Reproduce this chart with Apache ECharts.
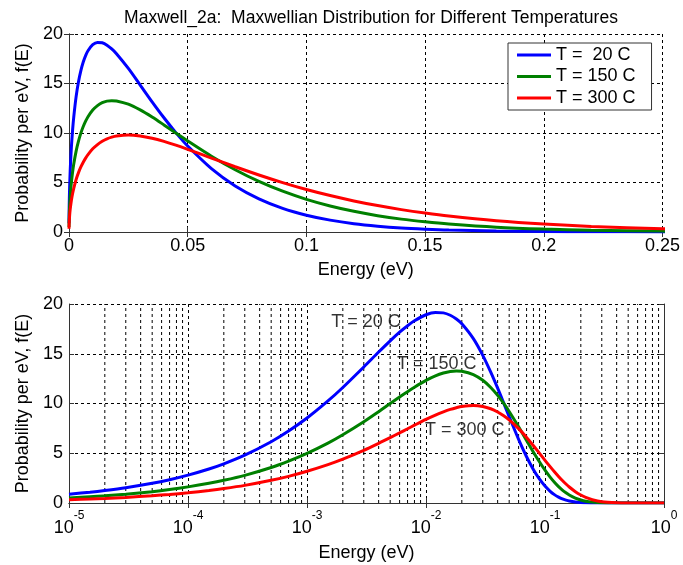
<!DOCTYPE html>
<html>
<head>
<meta charset="utf-8">
<title>Maxwell_2a</title>
<script src="https://cdn.jsdelivr.net/npm/echarts@6/dist/echarts.min.js"></script>
<style>
	html, body { margin: 0; padding: 0; background: #fff; }
	#chart { width: 683px; height: 565px; }
</style>
</head>
<body>
<div id="chart"></div>
<script>
// 能量取样点 (eV)，上下两图共用
var energy = [
	1e-5, 1.5e-5, 2e-5, 3e-5, 5e-5, 7e-5,
	1e-4, 1.5e-4, 2e-4, 3e-4, 5e-4, 7e-4,
	0.001, 0.0015, 0.002, 0.003, 0.004, 0.005, 0.006, 0.007, 0.008,
	0.01, 0.012, 0.014, 0.016, 0.018, 0.02, 0.025, 0.03, 0.035, 0.04, 0.045,
	0.05, 0.06, 0.07, 0.08, 0.09, 0.1, 0.11, 0.12, 0.13, 0.14, 0.15, 0.16,
	0.18, 0.2, 0.22, 0.25, 0.3, 0.4, 0.5, 0.7, 1.0
];
// 各温度下的概率密度 f(E)
var f20 = [
	0.89, 1.09, 1.26, 1.54, 1.98, 2.34,
	2.80, 3.42, 3.94, 4.81, 6.16, 7.23,
	8.54, 10.26, 11.61, 13.67, 15.17, 16.30, 17.17, 17.82, 18.31,
	18.92, 19.15, 19.11, 18.87, 18.49, 18.01, 16.52, 14.84, 13.15, 11.54, 10.04,
	8.68, 6.40, 4.65, 3.35, 2.39, 1.70, 1.20, 0.84, 0.59, 0.41, 0.29, 0.20,
	0.10, 0.05, 0.02, 0.01, 0, 0, 0, 0, 0
];
var f150 = [
	0.51, 0.63, 0.72, 0.89, 1.14, 1.35,
	1.62, 1.98, 2.28, 2.78, 3.57, 4.21,
	4.99, 6.02, 6.86, 8.17, 9.18, 9.99, 10.65, 11.19, 11.64,
	12.32, 12.77, 13.06, 13.22, 13.27, 13.24, 12.91, 12.33, 11.61, 10.82, 10.01,
	9.20, 7.66, 6.29, 5.11, 4.12, 3.30, 2.63, 2.09, 1.65, 1.30, 1.03, 0.81,
	0.49, 0.30, 0.18, 0.09, 0.02, 0, 0, 0, 0
];
var f300 = [
	0.33, 0.40, 0.46, 0.56, 0.73, 0.86,
	1.03, 1.26, 1.45, 1.77, 2.28, 2.68,
	3.19, 3.86, 4.41, 5.30, 6.00, 6.57, 7.05, 7.46, 7.82,
	8.40, 8.83, 9.16, 9.41, 9.58, 9.70, 9.80, 9.70, 9.47, 9.15, 8.77,
	8.35, 7.47, 6.59, 5.76, 4.99, 4.29, 3.68, 3.14, 2.67, 2.26, 1.91, 1.61,
	1.14, 0.80, 0.56, 0.33, 0.13, 0.02, 0, 0, 0
];
var seriesNames = ['T =  20 C', 'T = 150 C', 'T = 300 C'];
var seriesColors = ['#0000ff', '#008000', '#ff0000'];

// 下图中的文字标注
var noteX = [0.0016, 0.0057, 0.0098];
var noteY = [18.2, 14.0, 7.3];
var noteText = ['T = 20 C', 'T = 150 C', 'T = 300 C'];

// 对数轴的十进位
var decades = [-5, -4, -3, -2, -1, 0];

var FONT = '"Liberation Sans", Arial, Helvetica, sans-serif';
var FS = 18;

function pairs(xs, ys) {
	var out = [];
	for (var i = 0; i < xs.length; i++) {
		out.push([xs[i], ys[i]]);
	}
	return out;
}

// 对数轴次网格线：每个十进位内 2..9，用断开的折线画
var minorGrid = [];
for (var d = 0; d < decades.length - 1; d++) {
	for (var k = 2; k <= 9; k++) {
		var v = k * Math.pow(10, decades[d]);
		minorGrid.push([v, 0], [v, 20], [v, '-']);
	}
}

var gridLine = { show: true, lineStyle: { color: '#000', width: 1, type: [3, 3] } };
var frameLine = { show: true, lineStyle: { color: '#333', width: 1 } };
var inTick = { show: true, inside: true, length: 5, lineStyle: { color: '#333' } };
var labelStyle = { color: '#000', fontSize: FS, fontFamily: FONT };

function mirrorX(gridIndex, base) {
	var ax = {
		gridIndex: gridIndex, position: 'top',
		axisLine: frameLine, axisTick: inTick,
		axisLabel: { show: false }, splitLine: { show: false }
	};
	for (var key in base) ax[key] = base[key];
	return ax;
}

function mirrorY(gridIndex) {
	return {
		type: 'value', gridIndex: gridIndex, min: 0, max: 20, interval: 5, position: 'right',
		axisLine: frameLine, axisTick: inTick, axisLabel: { show: false }, splitLine: { show: false }
	};
}

function probAxis(gridIndex) {
	return {
		type: 'value', gridIndex: gridIndex, min: 0, max: 20, interval: 5,
		name: 'Probability per eV, f(E)', nameLocation: 'middle', nameGap: 37,
		nameTextStyle: labelStyle,
		axisLine: frameLine, axisTick: inTick, splitLine: gridLine,
		axisLabel: { color: '#000', fontSize: FS, fontFamily: FONT, margin: 6 }
	};
}

var linX = { type: 'value', min: 0, max: 0.25, interval: 0.05 };
var logX = { type: 'log', logBase: 10, min: 1e-5, max: 1 };

var myChart = echarts.init(document.getElementById('chart'));

var series = [];
var curves = [f20, f150, f300];
for (var i = 0; i < curves.length; i++) {
	// 上图：线性能量轴
	series.push({
		name: seriesNames[i], type: 'line', xAxisIndex: 0, yAxisIndex: 0,
		data: pairs(energy, curves[i]), showSymbol: false, smooth: 0.3,
		lineStyle: { color: seriesColors[i], width: 3 }, itemStyle: { color: seriesColors[i] }, z: 5
	});
	// 下图：对数能量轴
	series.push({
		name: seriesNames[i], type: 'line', xAxisIndex: 1, yAxisIndex: 1,
		data: pairs(energy, curves[i]), showSymbol: false, smooth: 0.3,
		lineStyle: { color: seriesColors[i], width: 3 }, itemStyle: { color: seriesColors[i] }, z: 5
	});
}

// 次网格线
series.push({
	type: 'line', xAxisIndex: 1, yAxisIndex: 1, data: minorGrid, z: 1, silent: true,
	showSymbol: false, connectNulls: false,
	lineStyle: { color: '#000', width: 1, type: [3, 3] }
});

// 文字标注
series.push({
	type: 'scatter', xAxisIndex: 1, yAxisIndex: 1, symbolSize: 0, z: 6, silent: true,
	data: noteX.map(function (x, j) { return { value: [x, noteY[j]], name: noteText[j] }; }),
	label: {
		show: true, position: 'right', distance: 0,
		formatter: function (p) { return p.name; },
		color: '#000', fontSize: FS, fontFamily: FONT
	}
});

var option = {
	animation: false,
	backgroundColor: '#fff',
	textStyle: { fontFamily: FONT },
	title: {
		text: 'Maxwell_2a:  Maxwellian Distribution for Different Temperatures',
		left: 366, top: 4, textAlign: 'center',
		textStyle: { color: '#000', fontSize: 17.5, fontWeight: 'normal', fontFamily: FONT }
	},
	legend: {
		data: seriesNames, orient: 'vertical', left: 508, top: 43,
		icon: 'rect', itemWidth: 34, itemHeight: 3, itemGap: 3.5, itemTextGap: 11,
		padding: [3, 16, 3, 9],
		backgroundColor: '#fff', borderColor: '#333', borderWidth: 1, borderRadius: 0,
		textStyle: { color: '#000', fontSize: FS, fontFamily: FONT },
		selectedMode: false, z: 10
	},
	grid: [
		{ left: 69, top: 34, width: 595, height: 198, containLabel: false },
		{ left: 69, top: 304, width: 595, height: 199, containLabel: false }
	],
	xAxis: [
		{
			type: 'value', gridIndex: 0, min: 0, max: 0.25, interval: 0.05,
			name: 'Energy (eV)', nameLocation: 'middle', nameGap: 29,
			nameTextStyle: labelStyle,
			axisLine: frameLine, axisTick: inTick, splitLine: gridLine,
			axisLabel: { color: '#000', fontSize: FS, fontFamily: FONT, margin: 5 }
		},
		{
			type: 'log', logBase: 10, gridIndex: 1, min: 1e-5, max: 1,
			name: 'Energy (eV)', nameLocation: 'middle', nameGap: 41,
			nameTextStyle: labelStyle,
			axisLine: frameLine, axisTick: inTick, splitLine: gridLine,
			axisLabel: {
				margin: 7,
				formatter: function (v) {
					var p = Math.round(Math.log(v) / Math.LN10);
					return '{b|10}{s|' + p + '}';
				},
				rich: {
					b: { color: '#000', fontSize: FS, fontFamily: FONT, verticalAlign: 'bottom' },
					s: { color: '#000', fontSize: 12, fontFamily: FONT, verticalAlign: 'top', padding: [0, 0, 15, 0] }
				}
			}
		},
		mirrorX(0, linX),
		mirrorX(1, logX)
	],
	yAxis: [probAxis(0), probAxis(1), mirrorY(0), mirrorY(1)],
	series: series
};

myChart.setOption(option);
</script>
</body>
</html>
